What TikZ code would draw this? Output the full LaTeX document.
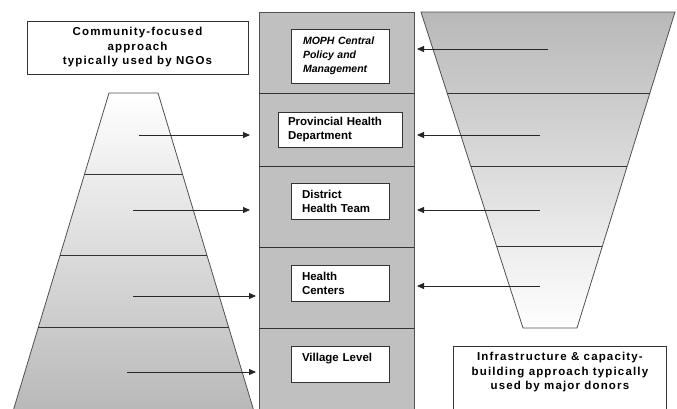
\documentclass[tikz,border=0pt]{standalone}
\usepackage{fontspec}
\setmainfont{Liberation Sans}
\usetikzlibrary{arrows.meta}
\definecolor{colgray}{HTML}{C0C0C0}
\definecolor{trapgray}{HTML}{B8B8B8}
\definecolor{linegray}{HTML}{505050}
\begin{document}
\begin{tikzpicture}[x=1pt,y=-1pt,
  divider/.style={draw=black!80, line width=0.7pt},
  outline/.style={draw=linegray, line width=0.8pt},
  arr/.style={line width=0.9pt, draw=black!85, -{Triangle[length=7pt,width=6pt]}},
  level/.style={draw=black!80, line width=0.8pt, fill=white, align=left,
    font=\fontsize{11.5}{14}\selectfont\bfseries},
  outerbox/.style={draw=black!80, line width=0.8pt, fill=white},
  outertext/.style={align=center, inner sep=0pt,
    font=\fontsize{11.5}{14.5}\selectfont\bfseries\addfontfeature{LetterSpace=10}},
]
\useasboundingbox (0,0) rectangle (677,408);

% central column
\fill[colgray] (259,12) rectangle (414,412);
\draw[outline] (259,412) -- (259,12) -- (414,12) -- (414,412);
\foreach \yy in {93,166,247,328} \draw[divider] (259,\yy) -- (414,\yy);

% left pyramid
\shade[top color=white, bottom color=trapgray] (109,93) -- (158,93) -- (254.2,412) -- (12.8,412) -- cycle;
\draw[outline] (12.8,412) -- (109,93) -- (158,93) -- (254.2,412);
\draw[divider] (84.6,174) -- (182.4,174);
\draw[divider] (60.1,255) -- (206.9,255);
\draw[divider] (38.4,327) -- (228.6,327);

% right funnel
\shade[top color=trapgray, bottom color=white] (421,12) -- (675,12) -- (577,328) -- (523,328) -- cycle;
\draw[outline] (421,12) -- (675,12) -- (577,328) -- (523,328) -- cycle;
\draw[divider] (447.1,93) -- (649.9,93);
\draw[divider] (470.7,166) -- (627.2,166);
\draw[divider] (496.5,246) -- (602.4,246);

% level boxes
\node[level, minimum width=98pt, minimum height=54pt, text width=74pt, inner xsep=12pt,
  font=\fontsize{10.5}{14}\selectfont\bfseries\itshape] (moph) at (340,56)
  {MOPH Central\\Policy and\\Management};
\node[level, minimum width=124pt, minimum height=35pt, text width=104pt, inner xsep=10pt] (prov) at (340,129.5)
  {Provincial Health\\Department};
\node[level, minimum width=98pt, minimum height=36pt, text width=76pt, inner xsep=11pt] (dist) at (340,201)
  {District\\Health Team};
\node[level, minimum width=98pt, minimum height=36pt, text width=76pt, inner xsep=11pt] (hc) at (340,283)
  {Health\\Centers};
\node[level, minimum width=98pt, minimum height=36pt, text width=76pt, inner xsep=11pt] (vil) at (340,364)
  {Village Level\\[0pt]~};

% outer label boxes
\node[outerbox, minimum width=221pt, minimum height=53pt] (lbox) at (137.5,47.5) {};
\node[outertext] (ltext) at (lbox.center) {Community-focused\\approach\\typically used by NGOs};
\node[outerbox, minimum width=213pt, minimum height=70pt, anchor=north west] (rbox) at (453,346) {};
\node[outertext, anchor=north] (rtext) at ([yshift=-6pt]rbox.north) {Infrastructure \& capacity-\\building approach typically\\used by major donors};

% arrow coordinates
\coordinate (l1) at (139,135); \coordinate (l1t) at (250,135);
\coordinate (l2) at (133,210); \coordinate (l2t) at (250,210);
\coordinate (l3) at (133,296); \coordinate (l3t) at (256,296);
\coordinate (l4) at (127,372); \coordinate (l4t) at (256,372);
\coordinate (r1) at (548,49);  \coordinate (r1t) at (417,49);
\coordinate (r2) at (540,135); \coordinate (r2t) at (417,135);
\coordinate (r3) at (540,210); \coordinate (r3t) at (417,210);
\coordinate (r4) at (540,286); \coordinate (r4t) at (417,286);
\foreach \a in {l1,l2,l3,l4,r1,r2,r3,r4} \draw[arr] (\a) -- (\a t);
\end{tikzpicture}
\end{document}
